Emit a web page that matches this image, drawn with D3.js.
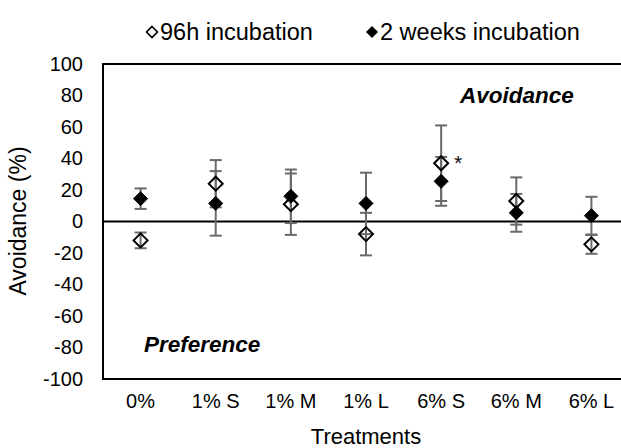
<!DOCTYPE html>
<html><head><meta charset="utf-8">
<script src="https://cdn.jsdelivr.net/npm/d3@7"></script>
<style>html,body{margin:0;padding:0;background:#fff;overflow:hidden}</style>
</head><body>
<script>
const categories = ["0%", "1% S", "1% M", "1% L", "6% S", "6% M", "6% L"];
const h96 = [-12, 24, 11, -8, 37, 13, -14.5];
const h96Err = [5, 15, 19.5, 13.5, 24, 15, 6];
const w2 = [14.5, 11.5, 16, 11.5, 25.5, 5.5, 3.7];
const w2Err = [6.5, 20.5, 17, 19.5, 15.5, 12, 12];
const yTicks = [-100, -80, -60, -40, -20, 0, 20, 40, 60, 80, 100];
const seriesNames = ["96h incubation", "2 weeks incubation"];

const W = 621, H = 448;
const font = "'Liberation Sans', Arial, sans-serif";
const svg = d3.select("body").append("svg").attr("width", W).attr("height", H)
  .style("font-family", font);

const x = d3.scaleBand().domain(categories).range([103, 629]);
const y = d3.scaleLinear().domain([-100, 100]).range([379, 64]);
const cx = c => x(c) + x.bandwidth() / 2;

// frame
svg.append("rect").attr("x", 103).attr("y", y(100)).attr("width", 526).attr("height", y(-100) - y(100))
  .attr("fill", "none").attr("stroke", "#000").attr("stroke-width", 2);
// zero line
svg.append("line").attr("x1", 103).attr("x2", 629).attr("y1", y(0)).attr("y2", y(0))
  .attr("stroke", "#000").attr("stroke-width", 2);

// y axis
const yAxis = d3.axisLeft(y).tickValues(yTicks).tickSize(0).tickPadding(20)
  .tickFormat(d => String(d));
const ga = svg.append("g").attr("transform", "translate(103,0)").call(yAxis);
ga.select(".domain").remove();
ga.selectAll("text").attr("font-size", 20).attr("font-family", font).attr("fill", "#000");

// x axis labels
const xAxis = d3.axisBottom(x).tickSize(0).tickPadding(15);
const gx = svg.append("g").attr("transform", "translate(0,379)").call(xAxis);
gx.select(".domain").remove();
gx.selectAll("text").attr("font-size", 20).attr("font-family", font).attr("fill", "#000");

// axis titles
svg.append("text").attr("x", 366).attr("y", 444).attr("text-anchor", "middle")
  .attr("font-size", 22).text("Treatments");
svg.append("text").attr("transform", "translate(26,221) rotate(-90)").attr("text-anchor", "middle")
  .attr("font-size", 23).text("Avoidance (%)");

// annotations
svg.append("text").attr("x", 460).attr("y", 103).attr("font-size", 22.5)
  .attr("font-weight", "bold").attr("font-style", "italic").text("Avoidance");
svg.append("text").attr("x", 144).attr("y", 352).attr("font-size", 22.5)
  .attr("font-weight", "bold").attr("font-style", "italic").text("Preference");

function diamondPath(s) {
  return `M0,${-s}L${s},0L0,${s}L${-s},0Z`;
}

const series = [
  {vals: h96, errs: h96Err, filled: false},
  {vals: w2, errs: w2Err, filled: true}
];
const errColor = "#6a6a6a";
series.forEach(s => {
  const g = svg.append("g");
  categories.forEach((c, i) => {
    const xx = cx(c), lo = y(s.vals[i] - s.errs[i]), hi = y(s.vals[i] + s.errs[i]);
    g.append("line").attr("x1", xx).attr("x2", xx).attr("y1", lo).attr("y2", hi)
      .attr("stroke", errColor).attr("stroke-width", 2);
    [lo, hi].forEach(yy => g.append("line").attr("x1", xx - 6).attr("x2", xx + 6)
      .attr("y1", yy).attr("y2", yy).attr("stroke", errColor).attr("stroke-width", 2));
  });
});
series.forEach(s => {
  categories.forEach((c, i) => {
    svg.append("path").attr("d", diamondPath(7))
      .attr("transform", `translate(${cx(c)},${y(s.vals[i])})`)
      .attr("fill", s.filled ? "#000" : "none")
      .attr("stroke", "#000").attr("stroke-width", s.filled ? 1 : 2);
  });
});

// significance asterisk
svg.append("text").attr("x", cx(categories[4]) + 13).attr("y", y(h96[4]) + 7)
  .attr("font-size", 20).text("*");

// legend
const leg = [{x: 152, name: seriesNames[0], filled: false}, {x: 372, name: seriesNames[1], filled: true}];
leg.forEach(l => {
  svg.append("path").attr("d", diamondPath(5.5)).attr("transform", `translate(${l.x},32)`)
    .attr("fill", l.filled ? "#000" : "none").attr("stroke", "#000").attr("stroke-width", l.filled ? 1 : 1.6);
  svg.append("text").attr("x", l.x + 8).attr("y", 40).attr("font-size", 23.5).text(l.name);
});
</script>
</body></html>
